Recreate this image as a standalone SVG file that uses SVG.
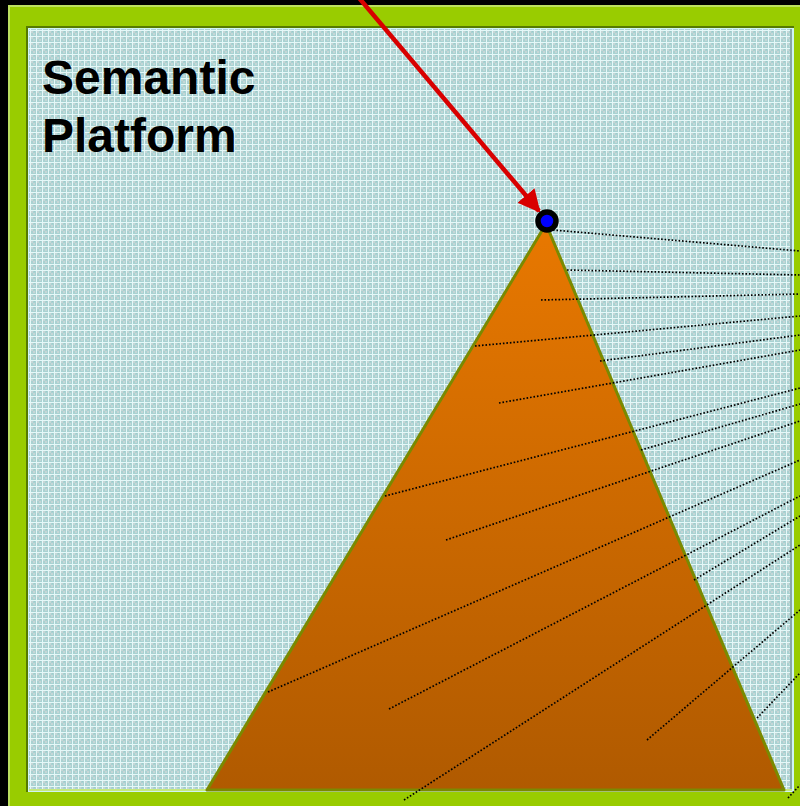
<svg xmlns="http://www.w3.org/2000/svg" width="800" height="806" viewBox="0 0 800 806">
<defs>
<pattern id="grid" width="6" height="6" patternUnits="userSpaceOnUse">
<rect width="6" height="6" fill="#a9d2d2"/>
<rect x="1" y="1" width="2" height="2" fill="#c6d6d6"/>
<rect x="3" y="3" width="2" height="2" fill="#c6d6d6"/>
<rect x="4" y="1" width="1" height="1" fill="#9ccaca"/>
<rect x="0" y="0" width="6" height="1" fill="#e4f8f8"/>
<rect x="0" y="0" width="1" height="6" fill="#e4f8f8"/>
</pattern>
<linearGradient id="tri" x1="0" y1="0" x2="0" y2="1">
<stop offset="0" stop-color="#e87800"/>
<stop offset="1" stop-color="#b05a00"/>
</linearGradient>
<marker id="ah" viewBox="0 0 10 10" refX="9" refY="5" markerWidth="5" markerHeight="5" orient="auto" markerUnits="strokeWidth">
<path d="M0,0 L10,5 L0,10 z" fill="#d80000"/>
</marker>
<style>
.dot{stroke:#000;stroke-width:1.7;stroke-dasharray:1.6 1.9;fill:none}
</style>
</defs>
<rect width="800" height="806" fill="#000"/>
<g id="frame">
<rect x="8" y="5" width="800" height="810" fill="#99cc00"/>
<rect x="8" y="5" width="800" height="2" fill="#bde060"/>
<rect x="8" y="5" width="2" height="810" fill="#bde060"/>
<rect x="26" y="26" width="768" height="766" fill="#557a00"/>
<rect x="28" y="28" width="766" height="764" fill="#d0f4f4"/>
<rect x="29" y="29" width="762" height="761" fill="url(#grid)"/>
<rect x="790" y="29" width="2" height="761" fill="#8aa8a8"/>
<rect x="29" y="789" width="763" height="2" fill="#c6e880"/>
</g>
<g id="title">
<text x="42" y="94" font-family="Liberation Sans, Arial, sans-serif" font-weight="bold" font-size="48" fill="#000">Semantic</text>
<text x="42" y="152" font-family="Liberation Sans, Arial, sans-serif" font-weight="bold" font-size="48" fill="#000">Platform</text>
</g>
<g id="pyramid">
<polygon points="546,224 207,790 784,790" fill="url(#tri)" stroke="#7a8a00" stroke-width="3" stroke-linejoin="round"/>
</g>
<g id="connectors">
<line class="dot" x1="553" y1="230" x2="800" y2="251"/>
<line class="dot" x1="567" y1="270" x2="800" y2="275"/>
<line class="dot" x1="541" y1="300" x2="800" y2="294"/>
<line class="dot" x1="475" y1="346" x2="800" y2="316"/>
<line class="dot" x1="600" y1="361" x2="800" y2="335"/>
<line class="dot" x1="499" y1="403" x2="800" y2="350"/>
<line class="dot" x1="385" y1="496" x2="800" y2="388"/>
<line class="dot" x1="641" y1="450" x2="800" y2="404"/>
<line class="dot" x1="446" y1="540" x2="800" y2="421"/>
<line class="dot" x1="268" y1="692" x2="800" y2="460"/>
<line class="dot" x1="389" y1="709" x2="800" y2="496"/>
<line class="dot" x1="694" y1="580" x2="800" y2="516"/>
<line class="dot" x1="404" y1="800" x2="800" y2="545"/>
<line class="dot" x1="647" y1="740" x2="800" y2="610"/>
<line class="dot" x1="757" y1="718" x2="800" y2="673"/>
<line class="dot" x1="788" y1="798" x2="800" y2="785"/>
<line x1="354" y1="-8" x2="539" y2="211" stroke="#d80000" stroke-width="4.5" marker-end="url(#ah)"/>
</g>
<g id="node">
<circle cx="547" cy="221" r="9" fill="#0000ff" stroke="#000" stroke-width="5.5"/>
</g>
</svg>
